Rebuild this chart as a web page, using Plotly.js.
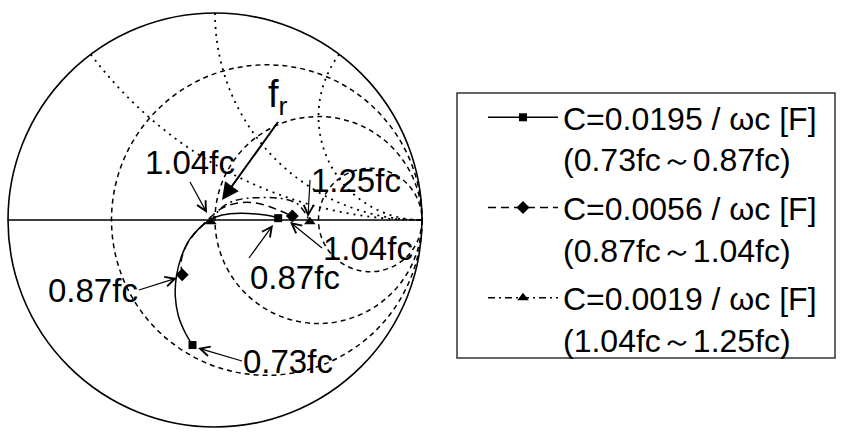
<!DOCTYPE html>
<html>
<head>
<meta charset="utf-8">
<script src="https://cdn.plot.ly/plotly-3.0.1.min.js"></script>
<style>html,body{margin:0;padding:0;background:#fff;}#chart{width:845px;height:434px;}</style>
</head>
<body>
<div id="chart"></div>
<script>
// Normalized impedance z = r + jx
const s1Real = [0.391,0.424,0.472,0.532,0.600,0.680,0.769,0.860,0.951,1.069,1.278,1.534,1.741,1.878];
const s1Imag = [-0.758,-0.682,-0.578,-0.473,-0.369,-0.258,-0.148,-0.066,0.000,0.051,0.086,0.090,0.071,0.037];
const s2Real = [0.641,0.671,0.727,0.805,0.888,0.969,1.064,1.203,1.390,1.628,1.931,2.190];
const s2Imag = [-0.374,-0.284,-0.200,-0.116,-0.043,0.037,0.122,0.196,0.245,0.247,0.181,0.097];
const s3Real = [0.961,0.999,1.062,1.163,1.312,1.552,1.875,2.248,2.511,2.689];
const s3Imag = [-0.017,0.048,0.130,0.213,0.282,0.359,0.440,0.429,0.235,-0.061];

const seriesNames = [
  'C=0.0195 / ωc [F]<br>(0.73fc～0.87fc)',
  'C=0.0056 / ωc [F]<br>(0.87fc～1.04fc)',
  'C=0.0019 / ωc [F]<br>(1.04fc～1.25fc)'
];
const resistanceGrid = [1/3, 1, 3];
const reactanceGrid = [0.5, 1, 2];

const labelTexts = ['1.04fc', 'f<sub>r</sub>', '1.25fc', '1.04fc', '0.87fc', '0.87fc', '0.73fc'];

const W = 845, H = 434;
const px = v => v / W;
const py = v => 1 - v / H;
const FONT = 'Liberation Sans, Arial, sans-serif';

const series = [
  {re: s1Real, im: s1Imag, dash: 'solid', symbol: 'square', size: 8},
  {re: s2Real, im: s2Imag, dash: '8px,5px', symbol: 'diamond', size: 10},
  {re: s3Real, im: s3Imag, dash: '7px,4px,2px,4px', symbol: 'triangle-up', size: 10}
];

const traces = [];
series.forEach((s, i) => {
  traces.push({
    type: 'scattersmith', real: s.re, imag: s.im, mode: 'lines',
    line: {color: '#000', width: 1.5, dash: s.dash, shape: 'spline', smoothing: 1},
    showlegend: false, legendgroup: 'g' + i, hoverinfo: 'skip'
  });
  const n = s.re.length - 1;
  traces.push({
    type: 'scattersmith', real: [s.re[0], null, s.re[n]], imag: [s.im[0], null, s.im[n]],
    mode: 'lines+markers', connectgaps: false, name: seriesNames[i],
    line: {color: '#000', width: 1.5, dash: s.dash},
    marker: {symbol: s.symbol, size: s.size, color: '#000'},
    legendgroup: 'g' + i, showlegend: true
  });
});

// labels: arrow tip, arrow tail (pixels) and the text anchor at the tail
const labelGeo = [
  {tip:[207,213], tail:[190,182], xa:'center', ya:'bottom', size:33, head:5, hs:1.6, w:1.2},
  {tip:[222,200], tail:[278,122], xa:'center', ya:'bottom', size:38, head:2, hs:1.7, w:2},
  {tip:[308,217], tail:[310,180], xa:'left',   ya:'middle', size:33, head:5, hs:1.6, w:1.2},
  {tip:[290,222], tail:[322,248], xa:'left',   ya:'middle', size:33, head:5, hs:1.6, w:1.2},
  {tip:[273,225], tail:[249,258], xa:'left',   ya:'top',    size:33, head:5, hs:1.6, w:1.2},
  {tip:[177,278], tail:[139,290], xa:'right',  ya:'middle', size:33, head:5, hs:1.6, w:1.2},
  {tip:[198,348], tail:[242,361], xa:'left',   ya:'middle', size:33, head:5, hs:1.6, w:1.2}
];
const annotations = labelTexts.map((t, i) => {
  const g = labelGeo[i];
  return {
    xref: 'paper', yref: 'paper', x: px(g.tip[0]), y: py(g.tip[1]),
    ax: g.tail[0] - g.tip[0], ay: g.tail[1] - g.tip[1],
    xanchor: g.xa, yanchor: g.ya, text: t, borderpad: 0,
    font: {family: FONT, size: g.size, color: '#000'},
    showarrow: true, arrowhead: g.head, arrowsize: g.hs, arrowwidth: g.w,
    arrowcolor: '#000', standoff: 0, startstandoff: 0
  };
});

const layout = {
  width: W, height: H,
  margin: {l: 0, r: 0, t: 0, b: 0},
  paper_bgcolor: '#fff',
  font: {family: FONT, color: '#000'},
  showlegend: true,
  smith: {
    domain: {x: [px(8), px(422)], y: [py(427), py(13)]},
    bgcolor: '#fff',
    realaxis: {
      tickvals: resistanceGrid, showticklabels: false, ticks: '',
      showline: true, linecolor: '#000', linewidth: 1.5,
      showgrid: true, gridcolor: '#000', gridwidth: 1.5, griddash: '5px,4px'
    },
    imaginaryaxis: {
      tickvals: reactanceGrid, showticklabels: false, ticks: '',
      showline: true, linecolor: '#000', linewidth: 1.6,
      showgrid: true, gridcolor: '#000', gridwidth: 1.8, griddash: '2px,5px'
    }
  },
  legend: {
    x: px(483), y: py(90), xanchor: 'left', yanchor: 'top',
    borderwidth: 0, bgcolor: 'rgba(0,0,0,0)',
    font: {family: FONT, size: 32, color: '#000'},
    itemwidth: 70, valign: 'top', traceorder: 'grouped', tracegroupgap: 4
  },
  shapes: [{
    type: 'rect', xref: 'paper', yref: 'paper',
    x0: px(457), x1: px(835), y0: py(358), y1: py(93),
    line: {color: '#333', width: 1.5}, fillcolor: 'rgba(0,0,0,0)', layer: 'below'
  }],
  annotations: annotations
};

Plotly.newPlot('chart', traces, layout, {staticPlot: true, displayModeBar: false});
</script>
</body>
</html>
